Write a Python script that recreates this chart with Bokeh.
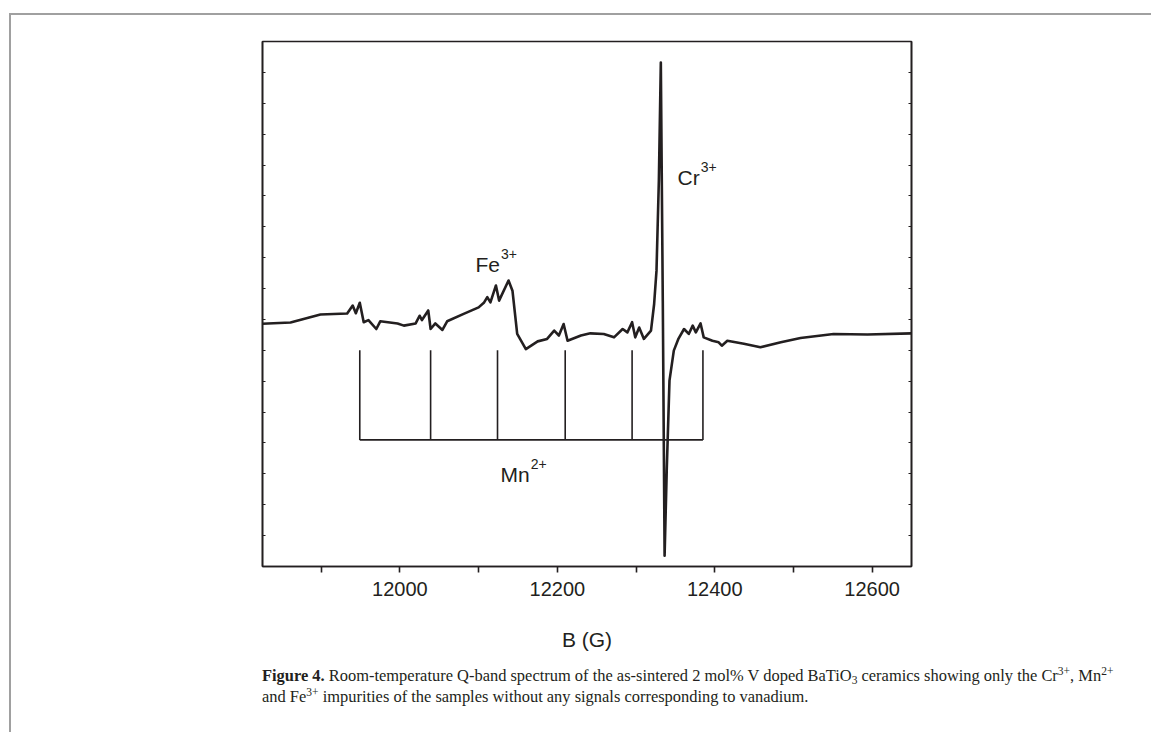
from bokeh.plotting import figure
from bokeh.models import Range1d, FixedTicker, LinearAxis, Label, Div
from bokeh.layouts import column
from bokeh.embed import file_html
from bokeh.resources import INLINE

# ---------------- data ----------------
field_G = [11825, 11861, 11899, 11933, 11940, 11944, 11949, 11954, 11960, 11970,
           11975, 11997, 12005, 12020, 12025, 12028, 12036, 12039, 12045, 12054,
           12060, 12081, 12100, 12107, 12111, 12115, 12122, 12126, 12138, 12143,
           12149, 12160, 12175, 12187, 12196, 12202, 12208, 12213, 12230, 12242,
           12259, 12272, 12283, 12289, 12295, 12299, 12304, 12310, 12319, 12323,
           12326, 12329, 12331.5, 12334, 12336.3, 12339, 12342.5, 12348, 12354, 12361,
           12367, 12372, 12376, 12382, 12386, 12397, 12405, 12409, 12416, 12437,
           12458, 12484, 12509, 12551, 12594, 12650]
intensity = [7.86, 7.90, 8.16, 8.19, 8.45, 8.20, 8.54, 7.91, 7.98, 7.69,
             7.94, 7.87, 7.80, 7.87, 8.12, 7.98, 8.29, 7.69, 7.87, 7.66,
             7.94, 8.18, 8.39, 8.55, 8.72, 8.55, 9.10, 8.61, 9.26, 8.93,
             7.53, 7.04, 7.29, 7.37, 7.64, 7.48, 7.85, 7.31, 7.48, 7.55,
             7.53, 7.42, 7.69, 7.58, 7.91, 7.42, 7.74, 7.37, 7.64, 8.50,
             9.58, 12.50, 16.32, 8.60, 0.35, 3.10, 6.02, 6.99, 7.38, 7.69,
             7.53, 7.80, 7.58, 7.87, 7.42, 7.31, 7.26, 7.15, 7.31, 7.21,
             7.10, 7.26, 7.40, 7.53, 7.51, 7.55]

mn_lines_G = [11949, 12039, 12124, 12210, 12295, 12385]
mn_top = 7.0
mn_bottom = 4.1

x_major = [12000, 12200, 12400, 12600]
x_minor = [11900, 12100, 12300, 12500]
y_ticks = list(range(1, 17))

X0, X1 = 11825.4, 12650.0
Y0, Y1 = 0.0, 17.0

caption_line1 = [("Figure 4.", "b"),
                 (" Room-temperature Q-band spectrum of the as-sintered 2 mol% V doped BaTiO", "n"),
                 ("3", "sub"), (" ceramics showing only the Cr", "n"), ("3+", "sup"),
                 (", Mn", "n"), ("2+", "sup")]
caption_line2 = [("and Fe", "n"), ("3+", "sup"),
                 (" impurities of the samples without any signals corresponding to vanadium.", "n")]

INK = "#231f20"
GREY = "#a0a0a0"

# page geometry: wrapper at (9,13) with 2px border -> content origin (11,15)
OX, OY = 11, 15
FL, FT, FW, FH = 262, 41, 649, 525
FIG_BOTTOM = 660


def X(px):
    return X0 + (px - FL) / FW * (X1 - X0)


def Y(py):
    return Y1 - (py - FT) / FH * (Y1 - Y0)


p = figure(frame_width=FW, frame_height=FH,
           x_range=Range1d(X0, X1), y_range=Range1d(Y0, Y1),
           output_backend="svg", toolbar_location=None,
           min_border_left=FL - OX, min_border_right=228,
           min_border_top=FT - OY, min_border_bottom=FIG_BOTTOM - OY - (FT - OY) - FH)
p.grid.visible = False
p.background_fill_color = "white"
p.border_fill_color = "white"
p.outline_line_color = INK
p.outline_line_width = 1.6

xa = p.xaxis[0]
xa.ticker = FixedTicker(ticks=x_major, minor_ticks=x_minor)
xa.major_tick_out = 6
xa.major_tick_in = 0
xa.minor_tick_out = 6
xa.minor_tick_in = 0
xa.axis_line_color = INK
xa.axis_line_width = 1.6
xa.major_tick_line_color = INK
xa.major_tick_line_width = 1.6
xa.minor_tick_line_color = INK
xa.minor_tick_line_width = 1.6
xa.major_label_text_font = "Liberation Sans"
xa.major_label_text_font_size = "20px"
xa.major_label_text_color = INK
xa.major_label_standoff = 9
xa.axis_label = "B (G)"
xa.axis_label_text_font = "Liberation Sans"
xa.axis_label_text_font_size = "21px"
xa.axis_label_text_font_style = "normal"
xa.axis_label_text_color = INK
xa.axis_label_standoff = 29

ya = p.yaxis[0]
yr = LinearAxis()
p.add_layout(yr, "right")
for ax in [ya, yr]:
    ax.ticker = FixedTicker(ticks=y_ticks)
    ax.major_tick_in = 3
    ax.major_tick_out = 0
    ax.minor_tick_line_color = None
    ax.axis_line_color = INK
    ax.axis_line_width = 1.6
    ax.major_tick_line_color = INK
    ax.major_tick_line_width = 1.2
    ax.major_label_overrides = {t: "" for t in y_ticks}

# spectrum
p.line(field_G, intensity, line_color=INK, line_width=2.6, line_join="round")

# Mn2+ stick diagram
p.segment(x0=mn_lines_G, y0=[mn_bottom] * len(mn_lines_G),
          x1=mn_lines_G, y1=[mn_top] * len(mn_lines_G),
          line_color=INK, line_width=1.6)
p.segment(x0=[mn_lines_G[0]], y0=[mn_bottom], x1=[mn_lines_G[-1]], y1=[mn_bottom],
          line_color=INK, line_width=1.6)

# ion labels
ARIAL = {"C": 722, "r": 333, "F": 611, "e": 556, "M": 833, "n": 556}


def ion(base, sup, px, py, fs=21, sfs=14):
    p.add_layout(Label(x=X(px), y=Y(py), text=base, text_font="Liberation Sans",
                       text_font_size=f"{fs}px", text_color=INK,
                       text_baseline="alphabetic"))
    w = sum(ARIAL[c] for c in base) / 1000 * fs
    p.add_layout(Label(x=X(px + w + 1), y=Y(py - 11), text=sup, text_font="Liberation Sans",
                       text_font_size=f"{sfs}px", text_color=INK,
                       text_baseline="alphabetic"))


ion("Cr", "3+", 677, 177)
ion("Fe", "3+", 475, 264)
ion("Mn", "2+", 500, 474)

# ---------------- caption ----------------
TN = {' ': 250, 'a': 444, 'b': 500, 'c': 444, 'd': 500, 'e': 444, 'f': 333, 'g': 500,
      'h': 500, 'i': 278, 'j': 278, 'k': 500, 'l': 278, 'm': 778, 'n': 500, 'o': 500,
      'p': 500, 'q': 500, 'r': 333, 's': 389, 't': 278, 'u': 500, 'v': 500, 'w': 722,
      'x': 500, 'y': 500, 'z': 444, 'A': 722, 'B': 667, 'C': 667, 'D': 722, 'E': 611,
      'F': 556, 'G': 722, 'H': 722, 'I': 333, 'M': 889, 'N': 722, 'O': 722, 'Q': 722,
      'R': 667, 'T': 611, 'V': 722, '.': 250, ',': 250, '-': 333, '%': 833, '+': 564}
for d in "0123456789":
    TN[d] = 500
TB = {'F': 611, 'i': 278, 'g': 500, 'u': 556, 'r': 444, 'e': 444, ' ': 250, '4': 500, '.': 250}


def em(s, kind):
    tab = TB if kind == "b" else TN
    k = 0.7 if kind in ("sup", "sub") else 1.0
    return sum(tab.get(c, 500) for c in s) / 1000 * k


FS = round(853 / sum(em(s, k) for s, k in caption_line1), 2)


def html_line(segs):
    out = ""
    for s, k in segs:
        if k == "b":
            out += f"<b>{s}</b>"
        elif k == "sup":
            out += f'<span style="font-size:0.7em;position:relative;top:-0.55em">{s}</span>'
        elif k == "sub":
            out += f'<span style="font-size:0.7em;position:relative;top:0.3em">{s}</span>'
        else:
            out += s
    return out


cap_html = (f'<div style="font-family:\'Liberation Serif\';font-size:{FS}px;line-height:19px;'
            f'color:{INK};white-space:nowrap;padding-left:{FL - OX}px;padding-top:6px;margin:0">'
            + html_line(caption_line1) + "<br>" + html_line(caption_line2) + "</div>")

cap = Div(text=cap_html, width=1140, height=72, margin=(0, 0, 0, 0))

layout = column(p, cap, margin=(13, 0, 0, 9), spacing=0,
                styles={"border-top": f"2px solid {GREY}", "border-left": f"2px solid {GREY}"})

open("out.html", "w").write(file_html(layout, INLINE))
